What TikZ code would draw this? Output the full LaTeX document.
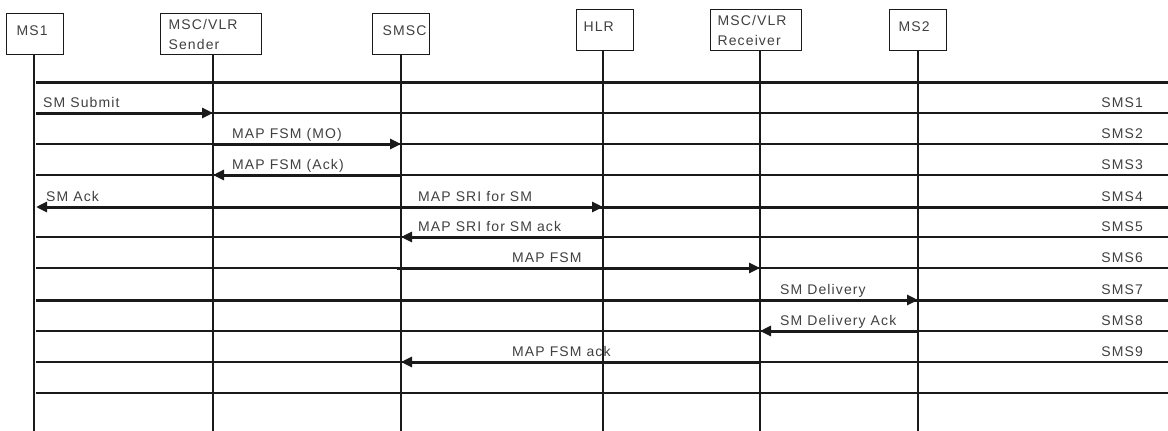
\documentclass[tikz,border=0pt]{standalone}
\usepackage{fontspec}
\newfontfamily\lab[LetterSpace=8]{Liberation Sans}
\usetikzlibrary{arrows.meta}
\definecolor{ink}{HTML}{1A1A1A}
\definecolor{txt}{HTML}{404040}
\begin{document}
\begin{tikzpicture}[x=1pt,y=-1pt,
  box/.style={draw=ink,line width=1.2pt,anchor=north west,minimum height=41pt,inner ysep=0pt,align=left,text=txt,font=\lab\fontsize{14}{20}\selectfont},
  one/.style={text depth=6pt},
  life/.style={draw=ink,line width=1.2pt},
  row/.style={draw=ink,line width=1.2pt},
  bar/.style={draw=ink,line width=3pt},
  msg/.style={draw=ink,line width=3pt,-{Triangle[length=11pt,width=10pt]}},
  lbl/.style={inner sep=0pt,text=txt,font=\lab\fontsize{14}{16}\selectfont},
]
\useasboundingbox (0,0) rectangle (1168,431);
% participant boxes
\node[box,one,inner xsep=10pt,text width=37pt] (ms1) at (6,13) {MS1};
\node[box,inner xsep=8pt,text width=85pt] (snd) at (160,13) {MSC/VLR\\Sender};
\node[box,one,inner xsep=10pt,text width=37pt] (smsc) at (372,13) {SMSC};
\node[box,one,inner xsep=7pt,text width=43pt] (hlr) at (576,9) {HLR};
\node[box,inner xsep=7pt,text width=77pt] (rcv) at (710,9) {MSC/VLR\\Receiver};
\node[box,one,inner xsep=9pt,text width=39pt] (ms2) at (889,9) {MS2};
% helper coordinates
\coordinate (x1) at (34,0);
\coordinate (x2) at (213,0);
\coordinate (x3) at (401,0);
\coordinate (x4) at (603,0);
\coordinate (x5) at (760,0);
\coordinate (x6) at (918,0);
\coordinate (bot) at (0,431);
\coordinate (lx) at (36,0);
\coordinate (rx) at (1168,0);
\foreach \n/\y in {0/82,1/113,2/144,3/175,4/207,5/237,6/268,7/300,8/331,9/362,10/393}
  \coordinate (r\n) at (0,\y);
% row lines
\foreach \n in {1,2,3,5,6,8,9,10} \draw[row] (lx |- r\n) -- (rx |- r\n);
\foreach \n in {0,7} \draw[bar] (lx |- r\n) -- (rx |- r\n);
% lifelines
\draw[life] (ms1.south -| x1) -- (x1 |- bot);
\draw[life] (snd.south -| x2) -- (x2 |- bot);
\draw[life] (smsc.south -| x3) -- (x3 |- bot);
\draw[life] (hlr.south -| x4) -- (x4 |- bot);
\draw[life] (rcv.south -| x5) -- (x5 |- bot);
\draw[life] (ms2.south -| x6) -- (x6 |- bot);
% messages
\draw[msg] (lx |- r1) -- (x2 |- r1);
\draw[msg] (x2 |- r2) -- (x3 |- r2);
\draw[msg] (x3 |- r3) -- (x2 |- r3);
\draw[msg] (rx |- r4) -- (lx |- r4);
\draw[msg] (x3 |- r4) -- (x4 |- r4);
\draw[msg] (x4 |- r5) -- (x3 |- r5);
\draw[msg] ([xshift=-4pt]x3 |- r6) -- (x5 |- r6);
\draw[msg] (x5 |- r7) -- (x6 |- r7);
\draw[msg] (x6 |- r8) -- (x5 |- r8);
\draw[msg] (x5 |- r9) -- (x3 |- r9);
% message labels
\node[lbl,anchor=base west] (m1) at (43,107) {SM Submit};
\node[lbl,anchor=base west] (m2) at (232,138) {MAP FSM (MO)};
\node[lbl,anchor=base west] (m3) at (232,169) {MAP FSM (Ack)};
\node[lbl,anchor=base west] (m4) at (46,201) {SM Ack};
\node[lbl,anchor=base west] (m5) at (418,201) {MAP SRI for SM};
\node[lbl,anchor=base west] (m6) at (418,231) {MAP SRI for SM ack};
\node[lbl,anchor=base west] (m7) at (512,262) {MAP FSM};
\node[lbl,anchor=base west] (m8) at (780,294) {SM Delivery};
\node[lbl,anchor=base west] (m9) at (780,325) {SM Delivery Ack};
\node[lbl,anchor=base west] (m10) at (512,356) {MAP FSM ack};
% step labels
\foreach \n/\y in {1/107,2/138,3/169,4/201,5/231,6/262,7/294,8/325,9/356}
  \node[lbl,anchor=base east] (s\n) at (1143,\y) {SMS\n};
\end{tikzpicture}
\end{document}
